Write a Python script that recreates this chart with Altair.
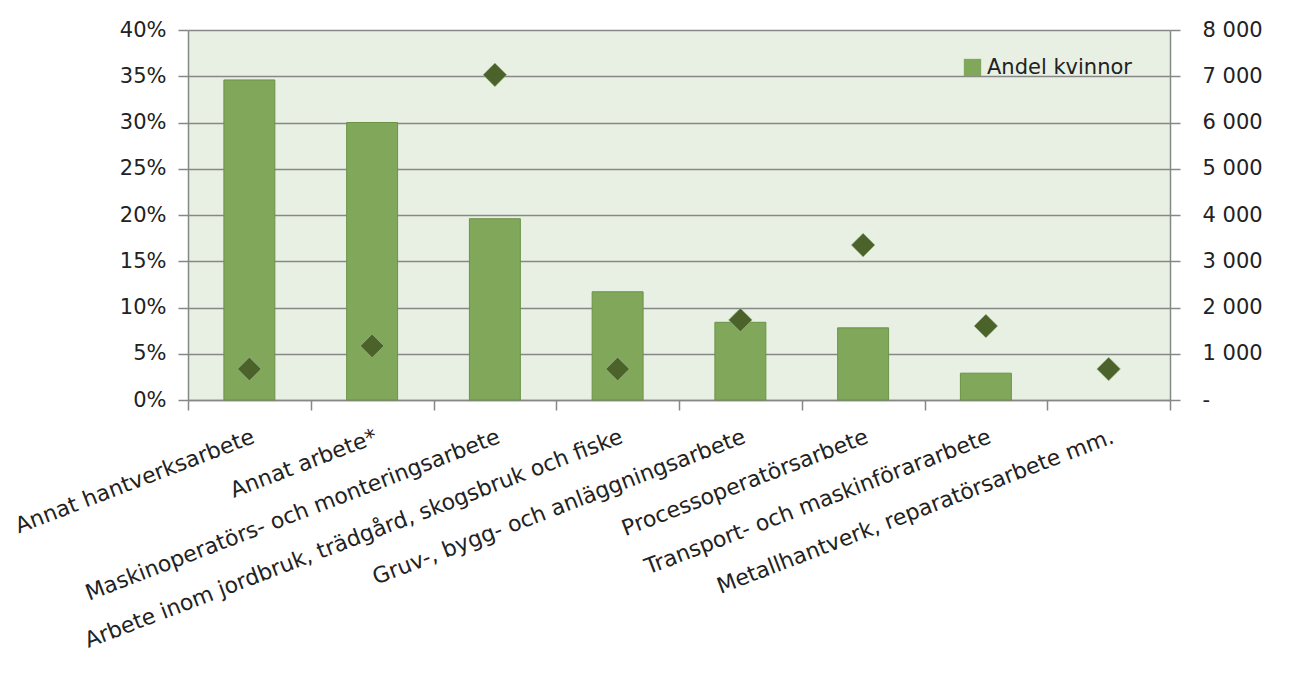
import altair as alt
import pandas as pd

kategorier = [
    "Annat hantverksarbete",
    "Annat arbete*",
    "Maskinoperatörs- och monteringsarbete",
    "Arbete inom jordbruk, trädgård, skogsbruk och fiske",
    "Gruv-, bygg- och anläggningsarbete",
    "Processoperatörsarbete",
    "Transport- och maskinförararbete",
    "Metallhantverk, reparatörsarbete mm.",
]
andel_kvinnor = [0.346, 0.300, 0.196, 0.117, 0.084, 0.078, 0.029, 0.0]
antal = [670, 1170, 7030, 670, 1730, 3350, 1600, 670]

df = pd.DataFrame({
    "kategori": kategorier,
    "andel": andel_kvinnor,
    "antal": antal,
    "serie": ["Andel kvinnor"] * len(kategorier),
})

GRAY = "#878787"
FONT = "DejaVu Sans"

x = alt.X(
    "kategori:N",
    sort=kategorier,
    scale=alt.Scale(paddingInner=0, paddingOuter=0),
    axis=alt.Axis(
        title=None,
        labelAngle=-21,
        labelAlign="right",
        labelBaseline="top",
        labelPadding=16,
        labelFontSize=22,
        tickBand="extent",
        tickSize=10,
        labelLimit=700,
    ),
)

bars = alt.Chart(df).transform_filter("datum.andel > 0").mark_bar(
    stroke="#6A9347", strokeWidth=1, width=alt.RelativeBandSize(0.415)
).encode(
    x=x,
    y=alt.Y(
        "andel:Q",
        scale=alt.Scale(domain=[0, 0.4]),
        axis=alt.Axis(
            title=None,
            format=".0%",
            values=[0, 0.05, 0.10, 0.15, 0.20, 0.25, 0.30, 0.35, 0.40],
            grid=True,
            tickSize=10,
            labelPadding=12,
            orient="left",
        ),
    ),
    color=alt.Color(
        "serie:N",
        scale=alt.Scale(domain=["Andel kvinnor"], range=["#80A75A"]),
        legend=alt.Legend(
            title=None,
            orient="none",
            legendX=774,
            legendY=27,
            symbolType="square",
            symbolSize=300,
            symbolStrokeWidth=0,
            labelFontSize=21,
            labelFont=FONT,
            labelColor="#222",
            labelOffset=4,
            padding=0,
        ),
    ),
)

points = alt.Chart(df).mark_point(
    shape="diamond", filled=True, size=560, color="#4B632A", opacity=1,
    stroke="#A9BD98", strokeWidth=0.6,
).encode(
    x=alt.X("kategori:N", sort=kategorier),
    y=alt.Y(
        "antal:Q",
        scale=alt.Scale(domain=[0, 8000]),
        axis=alt.Axis(
            title=None,
            orient="right",
            values=[0, 1000, 2000, 3000, 4000, 5000, 6000, 7000, 8000],
            labelExpr="datum.value == 0 ? '-' : replace(format(datum.value, ','), ',', ' ')",
            grid=False,
            tickSize=10,
            labelPadding=22,
        ),
    ),
)

chart = (
    alt.layer(bars, points)
    .resolve_scale(y="independent")
    .properties(
        width=982,
        height=370,
        autosize=alt.AutoSizeParams(type="none"),
        padding={"left": 188, "top": 30, "right": 124, "bottom": 282},
        background="white",
    )
    .configure_view(fill="#E8F0E3", stroke="transparent")
    .configure_axis(
        labelFont=FONT,
        labelFontSize=21,
        labelColor="#222",
        domainColor=GRAY,
        tickColor=GRAY,
        gridColor=GRAY,
        domainWidth=1.5,
        tickWidth=1.5,
        gridWidth=1.5,
    )
)

chart.save("out.html", embed_options={"renderer": "svg", "actions": False})
